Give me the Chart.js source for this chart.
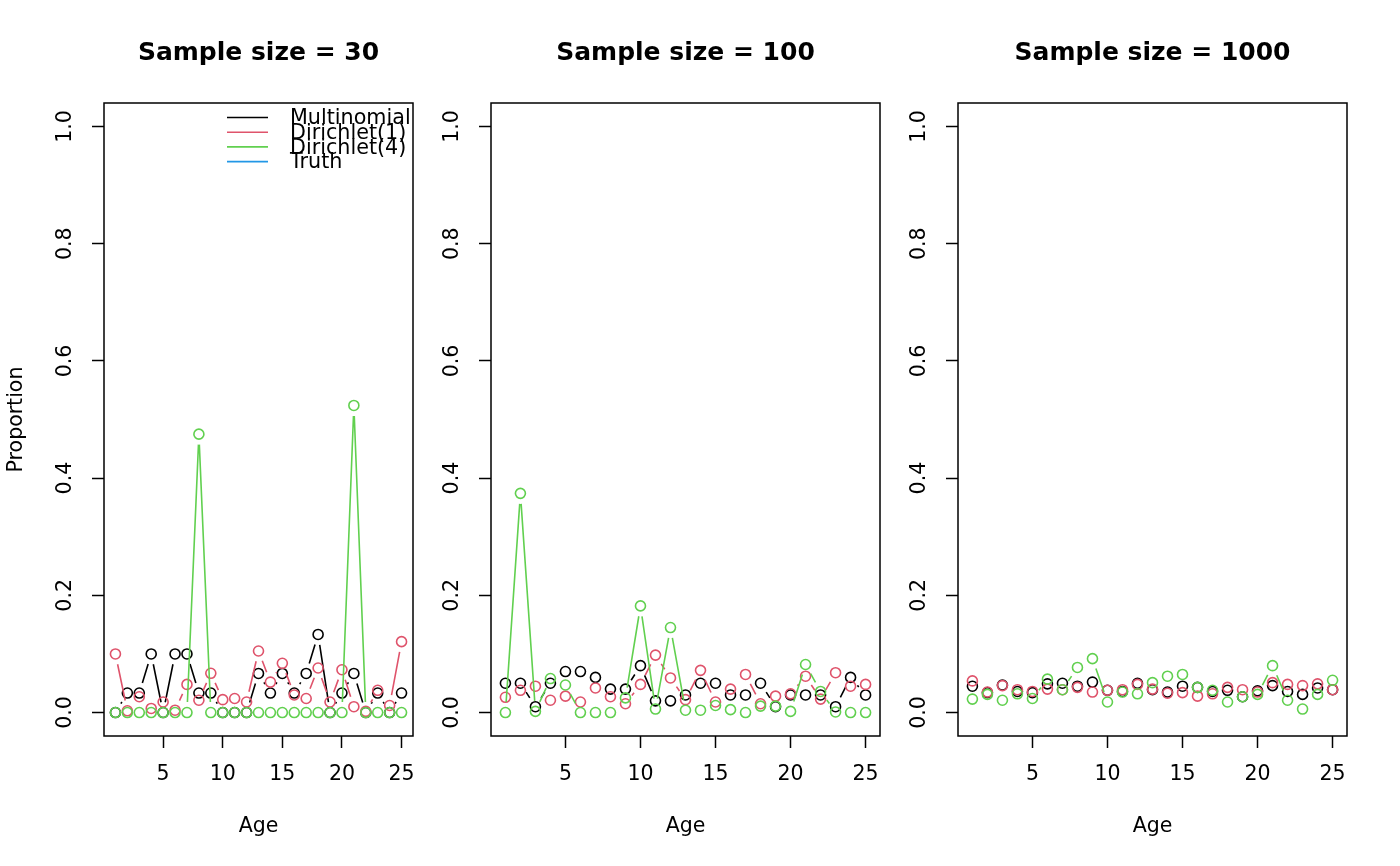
<!DOCTYPE html>
<html><head><meta charset="utf-8">
<script src="https://cdn.jsdelivr.net/npm/chart.js@4.4.1/dist/chart.umd.min.js"></script>
<style>
html,body{margin:0;padding:0;background:#fff;}
#wrap{position:relative;width:1400px;height:866px;overflow:hidden;background:#fff;}
canvas{position:absolute;left:0;top:0;}
</style></head><body>
<div id="wrap">
<canvas id="c1" width="1400" height="866"></canvas>
<canvas id="c2" width="1400" height="866"></canvas>
<canvas id="c3" width="1400" height="866"></canvas>
</div>
<script>
// ---------- data ----------
const ages = [1,2,3,4,5,6,7,8,9,10,11,12,13,14,15,16,17,18,19,20,21,22,23,24,25];
const xTicks = [5,10,15,20,25];
const xTickLabels = ["5","10","15","20","25"];
const yTicks = [0,0.2,0.4,0.6,0.8,1.0];
const yTickLabels = ["0.0","0.2","0.4","0.6","0.8","1.0"];
const seriesNames = ["Multinomial","Dirichlet(1)","Dirichlet(4)","Truth"];
const seriesColors = ["#000000","#DF536B","#61D04F","#2297E6"];
const panelTitles = ["Sample size = 30","Sample size = 100","Sample size = 1000"];
const xAxisTitle = "Age";
const yAxisTitle = "Proportion";

const n30_multinomial = [0,0.0333,0.0333,0.1,0,0.1,0.1,0.0333,0.0333,0,0,0,0.0667,0.0333,0.0667,0.0333,0.0667,0.1333,0,0.0333,0.0667,0,0.0333,0,0.0333];
const n30_dirichlet1  = [0.1,0.003,0.027,0.007,0.018,0.004,0.048,0.021,0.067,0.022,0.024,0.018,0.105,0.052,0.084,0.030,0.024,0.076,0.018,0.073,0.010,0.002,0.038,0.012,0.121];
const n30_dirichlet4  = [0,0,0,0,0,0,0,0.475,0,0,0,0,0,0,0,0,0,0,0,0,0.524,0,0,0,0];

const n100_multinomial = [0.05,0.05,0.01,0.05,0.07,0.07,0.06,0.04,0.04,0.08,0.02,0.02,0.03,0.05,0.05,0.03,0.03,0.05,0.01,0.03,0.03,0.03,0.01,0.06,0.03];
const n100_dirichlet1  = [0.026,0.038,0.045,0.021,0.028,0.018,0.042,0.027,0.015,0.048,0.098,0.059,0.022,0.072,0.018,0.040,0.065,0.015,0.028,0.032,0.062,0.023,0.068,0.045,0.048];
const n100_dirichlet4  = [0,0.374,0.002,0.058,0.047,0,0,0,0.025,0.182,0.006,0.145,0.004,0.004,0.012,0.005,0,0.011,0.011,0.002,0.082,0.036,0.001,0,0];

const n1000_multinomial = [0.045,0.034,0.047,0.036,0.034,0.049,0.050,0.045,0.052,0.038,0.036,0.050,0.039,0.035,0.045,0.043,0.036,0.038,0.027,0.037,0.046,0.036,0.031,0.042,0.039];
const n1000_dirichlet1  = [0.054,0.035,0.046,0.039,0.036,0.040,0.039,0.043,0.035,0.038,0.039,0.048,0.040,0.033,0.034,0.028,0.032,0.043,0.039,0.035,0.051,0.048,0.046,0.049,0.039];
const n1000_dirichlet4  = [0.023,0.031,0.021,0.032,0.024,0.057,0.039,0.077,0.092,0.018,0.035,0.032,0.051,0.062,0.065,0.043,0.038,0.018,0.027,0.031,0.080,0.021,0.006,0.031,0.055];

const truthValues = []; // Truth appears only in the legend

// ---------- styling constants ----------
const FONT = "DejaVu Sans";
const GAP = 10.5;
const Y_AXIS_W = 60;
const panelBoxes = [{left:104,right:413},{left:491,right:880},{left:958,right:1347}];

const gapLinePlugin = {
  id:'gapLine',
  beforeDatasetDraw(chart, args) {
    const ds = chart.data.datasets[args.index];
    if (!ds.rGapLine) return;
    const pts = args.meta.data;
    const ctx = chart.ctx;
    ctx.save();
    ctx.strokeStyle = ds.borderColor;
    ctx.lineWidth = 1.6;
    ctx.beginPath();
    for (let i=0;i<pts.length-1;i++){
      const a=pts[i], b=pts[i+1];
      const dx=b.x-a.x, dy=b.y-a.y, L=Math.hypot(dx,dy);
      if (L > 2*GAP) {
        const ux=dx/L, uy=dy/L;
        ctx.moveTo(a.x+ux*GAP, a.y+uy*GAP);
        ctx.lineTo(b.x-ux*GAP, b.y-uy*GAP);
      }
    }
    ctx.stroke();
    ctx.restore();
  }
};

const framePlugin = {
  id:'frameText',
  afterDraw(chart) {
    const ctx = chart.ctx, ca = chart.chartArea;
    const o = chart.options.plugins.frameText;
    ctx.save();
    ctx.strokeStyle = '#000';
    ctx.lineWidth = 1.5;
    ctx.strokeRect(ca.left, ca.top, ca.right-ca.left, ca.bottom-ca.top);
    ctx.fillStyle = '#000';
    ctx.textAlign = 'center';
    ctx.textBaseline = 'middle';
    ctx.font = "bold 25px '" + FONT + "'";
    ctx.fillText(o.title, (ca.left+ca.right)/2, 53);
    ctx.font = "20.5px '" + FONT + "'";
    ctx.fillText(xAxisTitle, (ca.left+ca.right)/2, 827);
    if (o.showY) {
      ctx.save();
      ctx.translate(17, (ca.top+ca.bottom)/2);
      ctx.rotate(-Math.PI/2);
      ctx.fillText(yAxisTitle, 0, 0);
      ctx.restore();
    }
    if (o.showLegend) {
      const ds = chart.data.datasets;
      ctx.textAlign = 'left';
      ctx.font = "20.7px '" + FONT + "'";
      for (let i=0;i<ds.length;i++) {
        const y = 117.5 + i*14.7;
        ctx.strokeStyle = ds[i].borderColor;
        ctx.lineWidth = 1.6;
        ctx.beginPath();
        ctx.moveTo(227, y); ctx.lineTo(268, y);
        ctx.stroke();
        ctx.fillStyle = '#000';
        ctx.fillText(ds[i].label, 290, y+1.5);
      }
    }
    ctx.restore();
  }
};

function makeChart(id, idx, series) {
  const box = panelBoxes[idx];
  const datasets = series.map((vals,i)=>({
    label: seriesNames[i],
    data: vals.map((v,j)=>({x:ages[j], y:v})),
    borderColor: seriesColors[i],
    backgroundColor: 'rgba(0,0,0,0)',
    showLine:false,
    rGapLine:true,
    pointRadius:5,
    pointHoverRadius:5,
    pointBorderWidth:1.6,
    order: 4-i
  }));
  const tickFont = {family:FONT, size:20.5};
  return new Chart(document.getElementById(id), {
    type:'scatter',
    data:{datasets},
    options:{
      responsive:false, animation:false, devicePixelRatio:1, events:[],
      layout:{padding:{left:box.left-Y_AXIS_W, right:1400-box.right, top:103, bottom:0}},
      plugins:{legend:{display:false}, tooltip:{enabled:false}, title:{display:false},
        frameText:{title:panelTitles[idx], showY: idx===0, showLegend: idx===0}},
      scales:{
        x:{type:'linear', min:0.04, max:25.96,
          afterBuildTicks: s => { s.ticks = xTicks.map(v=>({value:v})); },
          afterFit: s => { s.height = 130; },
          ticks:{callback:(v,i)=>xTickLabels[i], font:tickFont, color:'#000', padding:14, minRotation:0, maxRotation:0, autoSkip:false},
          grid:{display:true, drawOnChartArea:false, drawTicks:true, tickLength:12, tickWidth:1.5, tickColor:'#000'},
          border:{display:false}
        },
        y:{type:'linear', min:-0.04, max:1.04,
          afterBuildTicks: s => { s.ticks = yTicks.map(v=>({value:v})); },
          afterFit: s => { s.width = Y_AXIS_W; },
          ticks:{callback:(v,i)=>yTickLabels[i], font:tickFont, color:'#000', padding:10, minRotation:90, maxRotation:90, crossAlign:'center', autoSkip:false},
          grid:{display:true, drawOnChartArea:false, drawTicks:true, tickLength:12, tickWidth:1.5, tickColor:'#000'},
          border:{display:false}
        }
      }
    },
    plugins:[gapLinePlugin, framePlugin]
  });
}

makeChart('c1', 0, [n30_multinomial, n30_dirichlet1, n30_dirichlet4, truthValues]);
makeChart('c2', 1, [n100_multinomial, n100_dirichlet1, n100_dirichlet4, truthValues]);
makeChart('c3', 2, [n1000_multinomial, n1000_dirichlet1, n1000_dirichlet4, truthValues]);
</script>
</body></html>
